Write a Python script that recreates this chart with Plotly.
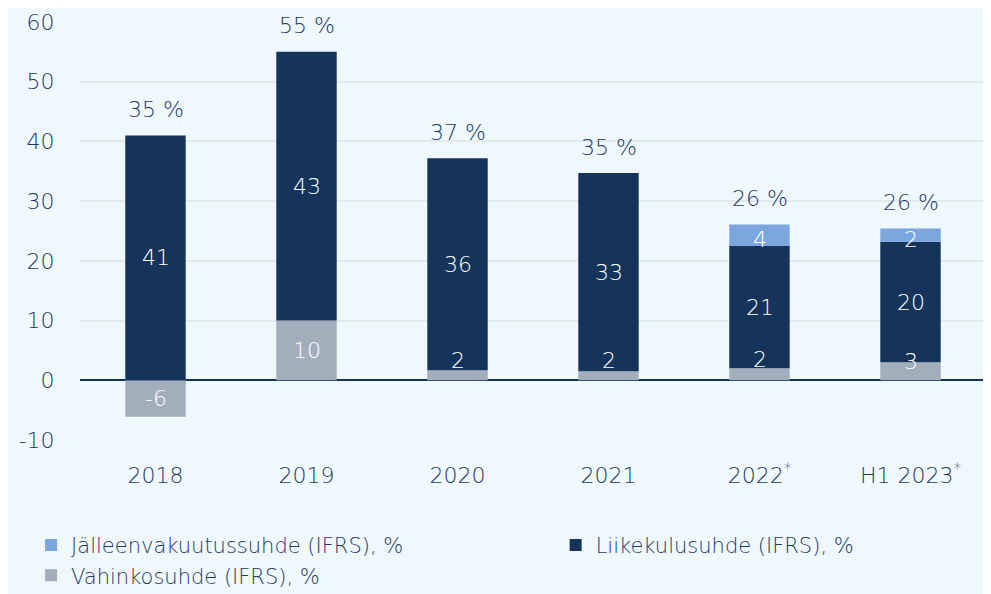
import plotly.graph_objects as go

years = ["2018", "2019", "2020", "2021", "2022<sup>*</sup>", "H1 2023<sup>*</sup>"]

# bar heights
vahinko = [-6.1, 10.0, 1.7, 1.5, 2.0, 3.0]
liike = [41.0, 45.0, 35.5, 33.2, 20.5, 20.2]
jalleen = [0, 0, 0, 0, 3.6, 2.2]

# labels as printed on the chart
vahinko_lbl = ["-6", "10", "2", "2", "2", "3"]
liike_lbl = ["41", "43", "36", "33", "21", "20"]
jalleen_lbl = ["", "", "", "", "4", "2"]
total_lbl = ["35 %", "55 %", "37 %", "35 %", "26 %", "26 %"]

y_ticks = [-10, 0, 10, 20, 30, 40, 50, 60]
y_tick_lbl = ["-10", "0", "10", "20", "30", "40", "50", "60"]

c_jal = "#7BA7DE"
c_lii = "#163359"
c_vah = "#A3AEBD"
txt = "#1F3A5F"
bg = "#EEF8FD"
font = "DejaVu Sans"
fw = 300
fs = 22

fig = go.Figure()
# stacked from the base up: vahinko, liike, jalleen
fig.add_trace(go.Bar(x=years, y=vahinko, name="Vahinkosuhde (IFRS), %", legend="legend",
                     legendrank=2, marker=dict(color=c_vah, line=dict(width=0))))
fig.add_trace(go.Bar(x=years, y=liike, name="Liikekulusuhde (IFRS), %", legend="legend2",
                     marker=dict(color=c_lii, line=dict(width=0))))
fig.add_trace(go.Bar(x=years, y=jalleen, name="Jälleenvakuutussuhde (IFRS), %", legend="legend",
                     legendrank=1, marker=dict(color=c_jal, line=dict(width=0))))

# annotations use the category index (numeric-looking strings confuse category lookup)
for i in range(len(years)):
    v = vahinko[i]
    l = liike[i]
    j = jalleen[i]
    base = max(v, 0)
    top = base + l + j
    vshift = 0
    if abs(v) < 5:
        vshift = 15 if v < 2.5 else 10
    fig.add_annotation(x=i, y=v / 2, text=vahinko_lbl[i], showarrow=False, yshift=vshift,
                       font=dict(color="white", size=fs, family=font, weight=fw))
    fig.add_annotation(x=i, y=base + l / 2, text=liike_lbl[i], showarrow=False,
                       font=dict(color="white", size=fs, family=font, weight=fw))
    if j > 0:
        fig.add_annotation(x=i, y=base + l + j / 2, text=jalleen_lbl[i], showarrow=False,
                           yshift=-4, font=dict(color="white", size=fs, family=font, weight=fw))
    fig.add_annotation(x=i, y=top, text=total_lbl[i], showarrow=False, yshift=26,
                       font=dict(color=txt, size=fs, family=font, weight=fw))

legend_font = dict(size=21, color=txt, family=font, weight=fw)

# page body has an 8px margin, so the figure is a bit smaller than the window
fig.update_layout(
    barmode="relative",
    bargap=0.6,
    width=983,
    height=586,
    paper_bgcolor=bg,
    plot_bgcolor=bg,
    margin=dict(l=72, r=5, t=14, b=154),
    font=dict(family=font, color=txt, size=fs, weight=fw),
    showlegend=True,
    legend=dict(orientation="v", x=-0.054, xanchor="left", y=0.118, yref="container",
                yanchor="top", traceorder="normal", font=legend_font, itemwidth=30,
                tracegroupgap=0, bgcolor="rgba(0,0,0,0)"),
    legend2=dict(orientation="v", x=0.525, xanchor="left", y=0.118, yref="container",
                 yanchor="top", font=legend_font, itemwidth=30, bgcolor="rgba(0,0,0,0)"),
    xaxis=dict(type="category", showgrid=False, ticks="outside", ticklen=16,
               tickcolor="rgba(0,0,0,0)", tickfont=dict(size=fs, color=txt, family=font, weight=fw),
               showline=False, zeroline=False, automargin=False),
    yaxis=dict(range=[-10, 60], tickvals=y_ticks, ticktext=y_tick_lbl,
               showgrid=True, gridcolor="#E3E9ED", gridwidth=2,
               zeroline=True, zerolinecolor=c_lii, zerolinewidth=2,
               ticks="outside", ticklen=20, tickcolor="rgba(0,0,0,0)",
               tickfont=dict(size=fs, color=txt, family=font, weight=fw), automargin=False),
)

fig.write_html("out.html")
